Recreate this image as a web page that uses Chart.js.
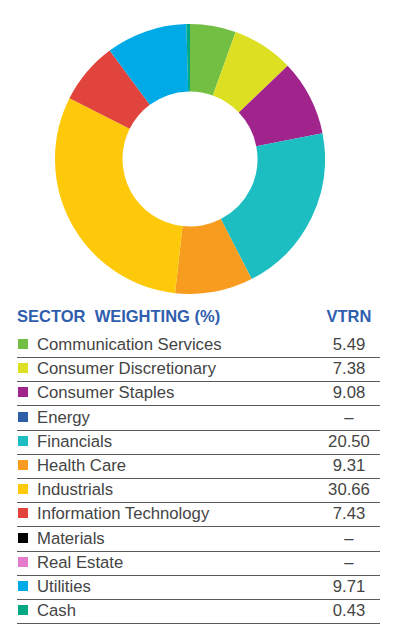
<!DOCTYPE html>
<html>
<head>
<meta charset="utf-8">
<script src="https://cdn.jsdelivr.net/npm/chart.js@4"></script>
<style>
  body { margin: 0; background: #fff; width: 393px; height: 629px; position: relative; overflow: hidden;
         font-family: "Liberation Sans", Arial, sans-serif; }
  #wrap { position: absolute; left: 55px; top: 24px; width: 270px; height: 270px; }
  .hdr { position: absolute; top: 307px; font-weight: bold; font-size: 16.5px; color: #2f5eae; }
  .row { position: absolute; left: 17px; width: 363px; height: 24px; border-bottom: 1.5px solid #5a5a5a; }
  .sq { position: absolute; left: 1px; top: 6px; width: 10px; height: 10px; }
  .lbl { position: absolute; left: 20px; top: 2px; font-size: 16.7px; color: #444; white-space: nowrap; }
  .val { position: absolute; left: 292px; width: 80px; top: 2px; text-align: center; font-size: 16.7px; color: #444; }
</style>
</head>
<body>
<div id="wrap"><canvas id="chart" width="270" height="270"></canvas></div>
<div class="hdr" style="left:17px">SECTOR&nbsp; WEIGHTING (%)</div>
<div class="hdr" style="left:309px;width:80px;text-align:center">VTRN</div>
<div id="table"></div>
<script>
const sectors = ['Communication Services', 'Consumer Discretionary', 'Consumer Staples', 'Energy',
  'Financials', 'Health Care', 'Industrials', 'Information Technology', 'Materials',
  'Real Estate', 'Utilities', 'Cash'];
const weights = [5.49, 7.38, 9.08, null, 20.50, 9.31, 30.66, 7.43, null, null, 9.71, 0.43];
const colors = ['#72bf44', '#dcdf22', '#a0248c', '#2e5da8', '#1dbec2', '#f89c1f',
  '#fec90a', '#e0443c', '#000000', '#e47ccb', '#00aae6', '#00a884'];

const ctx = document.getElementById('chart').getContext('2d');
new Chart(ctx, {
  type: 'doughnut',
  data: {
    labels: sectors,
    datasets: [{
      data: weights.map(v => v === null ? 0 : v),
      backgroundColor: colors,
      borderWidth: 0
    }]
  },
  options: {
    responsive: false,
    animation: false,
    cutout: '50%',
    plugins: { legend: { display: false }, tooltip: { enabled: false } }
  }
});

// table below the chart
const table = document.getElementById('table');
for (let i = 0; i < sectors.length; i++) {
  const row = document.createElement('div');
  row.className = 'row';
  row.style.top = (333 + i * 24.2) + 'px';
  const val = weights[i] === null ? '–' : weights[i].toFixed(2);
  row.innerHTML = `<div class="sq" style="background:${colors[i]}"></div>` +
    `<div class="lbl">${sectors[i]}</div><div class="val">${val}</div>`;
  table.appendChild(row);
}
</script>
</body>
</html>
